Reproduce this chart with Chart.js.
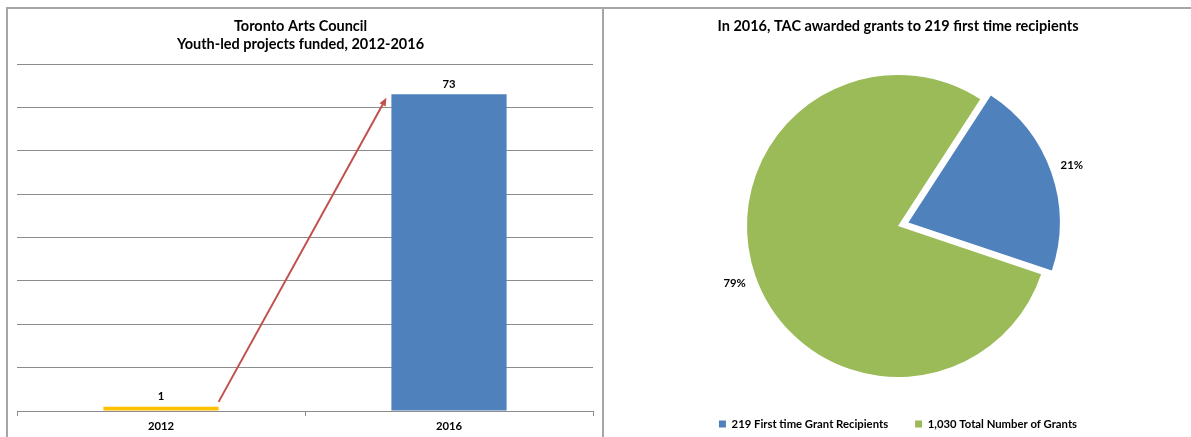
<!DOCTYPE html>
<html><head><meta charset="utf-8">
<script src="https://cdn.jsdelivr.net/npm/chart.js@4"></script>
<style>
html,body{margin:0;padding:0;background:#fff;overflow:hidden;width:1191px;height:437px;position:relative;}
.ln{position:absolute;background:#a6a6a6;}
#frameTop{left:6px;top:7px;width:1185px;height:2px;}
#frameLeft{left:6px;top:7px;width:2px;height:430px;}
#frameMid{left:602px;top:7px;width:2px;height:430px;}
#bar{position:absolute;left:8px;top:9px;}
#pie{position:absolute;left:605px;top:10px;}
</style></head>
<body>
<div class="ln" id="frameTop"></div>
<div class="ln" id="frameLeft"></div>
<div class="ln" id="frameMid"></div>
<canvas id="bar" width="594" height="428"></canvas>
<canvas id="pie" width="586" height="432"></canvas>
<script>
const FONT = 'Lato, "Open Sans", sans-serif';
const TITLE_SIZE = 14.5;
const SMALL_SIZE = 11.3;

// ---- Bar chart data ----
const barTitle = ['Toronto Arts Council', 'Youth-led projects funded, 2012-2016'];
const barCategories = ['2012', '2016'];
const barValues = [1, 73];
const barColors = ['#FFC000', '#4F81BD'];
const yMin = 0, yMax = 80, yStep = 10;
const arrowFromValue = 2.1;
const arrowToValue = 72.2;

// ---- Pie chart data ----
const pieTitle = 'In 2016, TAC awarded grants to 219 first time recipients';
const pieLabels = ['219 First time Grant Recipients', '1,030 Total Number of Grants'];
const pieValues = [21, 79];
const pieColors = ['#4F81BD', '#9BBB59'];
const pieOffsets = [44, 0]; // Chart.js moves an arc by offset/4

const GRID = '#8c8c8c';

const barExtras = {
  id: 'barExtras',
  afterDatasetsDraw(chart) {
    const ctx = chart.ctx;
    const meta = chart.getDatasetMeta(0);
    const ys = chart.scales.y;
    ctx.save();
    ctx.font = 'bold ' + SMALL_SIZE + 'px ' + FONT;
    ctx.fillStyle = '#000';
    ctx.textAlign = 'center';
    ctx.textBaseline = 'middle';
    meta.data.forEach((bar, i) => {
      ctx.fillText(String(barValues[i]), bar.x, bar.y - 10);
    });
    // arrow from the 2012 bar to the 2016 bar
    const b0 = meta.data[0], b1 = meta.data[1];
    const x0 = b0.x + b0.width / 2, y0 = ys.getPixelForValue(arrowFromValue);
    const x1 = b1.x - b1.width / 2 - 5, y1 = ys.getPixelForValue(arrowToValue);
    const ang = Math.atan2(y1 - y0, x1 - x0);
    const headLen = 8, headW = 3.5;
    const bx = x1 - Math.cos(ang) * headLen, by = y1 - Math.sin(ang) * headLen;
    ctx.strokeStyle = '#C0504D';
    ctx.fillStyle = '#C0504D';
    ctx.lineWidth = 2;
    ctx.beginPath();
    ctx.moveTo(x0, y0);
    ctx.lineTo(bx, by);
    ctx.stroke();
    ctx.beginPath();
    ctx.moveTo(x1, y1);
    ctx.lineTo(bx + Math.sin(ang) * headW, by - Math.cos(ang) * headW);
    ctx.lineTo(bx - Math.sin(ang) * headW, by + Math.cos(ang) * headW);
    ctx.closePath();
    ctx.fill();
    ctx.restore();
  }
};

new Chart(document.getElementById('bar'), {
  type: 'bar',
  data: {
    labels: barCategories,
    datasets: [{
      data: barValues,
      backgroundColor: barColors,
      borderWidth: 0,
      categoryPercentage: 1,
      barPercentage: 0.4
    }]
  },
  options: {
    responsive: false,
    animation: false,
    layout: { padding: { left: 0, right: 9, top: 0, bottom: 0 } },
    plugins: {
      legend: { display: false },
      tooltip: { enabled: false },
      title: {
        display: true,
        text: barTitle,
        color: '#000',
        font: { family: FONT, size: TITLE_SIZE, weight: 'bold', lineHeight: 1.2 },
        padding: { top: 9, bottom: 11.2 }
      }
    },
    scales: {
      x: {
        grid: { display: true, drawOnChartArea: false, drawTicks: true, tickLength: 5, color: GRID, offset: true },
        border: { display: true, color: GRID },
        ticks: { color: '#000', font: { family: FONT, size: SMALL_SIZE, weight: 'bold' }, padding: 4 },
        afterFit(s) { s.height = 26; }
      },
      y: {
        min: yMin, max: yMax,
        ticks: { display: false, stepSize: yStep },
        grid: { color: GRID, drawTicks: false },
        border: { display: false },
        afterFit(s) { s.width = 9; }
      }
    }
  },
  plugins: [barExtras]
});

const pieLabelPlugin = {
  id: 'pieLabelPlugin',
  afterDatasetsDraw(chart) {
    const meta = chart.getDatasetMeta(0);
    const ctx = chart.ctx;
    const total = pieValues.reduce((a, b) => a + b, 0);
    ctx.save();
    ctx.font = 'bold ' + SMALL_SIZE + 'px ' + FONT;
    ctx.fillStyle = '#000';
    ctx.textAlign = 'center';
    ctx.textBaseline = 'middle';
    meta.data.forEach((arc, i) => {
      const p = arc.getProps(['x', 'y', 'startAngle', 'endAngle', 'outerRadius'], true);
      const mid = (p.startAngle + p.endAngle) / 2;
      const off = (arc.options.offset || 0) / 4;
      const r = p.outerRadius + off + 22;
      ctx.fillText(Math.round(pieValues[i] / total * 100) + '%', p.x + Math.cos(mid) * r, p.y + Math.sin(mid) * r);
    });
    ctx.restore();
  }
};

new Chart(document.getElementById('pie'), {
  type: 'pie',
  data: {
    labels: pieLabels,
    datasets: [{
      data: pieValues,
      backgroundColor: pieColors,
      borderWidth: 0,
      offset: pieOffsets
    }]
  },
  options: {
    responsive: false,
    animation: false,
    rotation: 33,
    radius: 151,
    layout: { padding: { left: 0, right: 0, top: 0, bottom: 2.35 } },
    plugins: {
      tooltip: { enabled: false },
      title: {
        display: true,
        text: pieTitle,
        color: '#000',
        font: { family: FONT, size: TITLE_SIZE, weight: 'bold', lineHeight: 1.2 },
        padding: { top: 8, bottom: 25.25 }
      },
      legend: {
        position: 'bottom',
        labels: {
          boxWidth: 7, boxHeight: 7, padding: 27, color: '#000',
          font: { family: FONT, size: SMALL_SIZE, weight: 'bold' }
        }
      }
    }
  },
  plugins: [pieLabelPlugin]
});
</script>
</body></html>
